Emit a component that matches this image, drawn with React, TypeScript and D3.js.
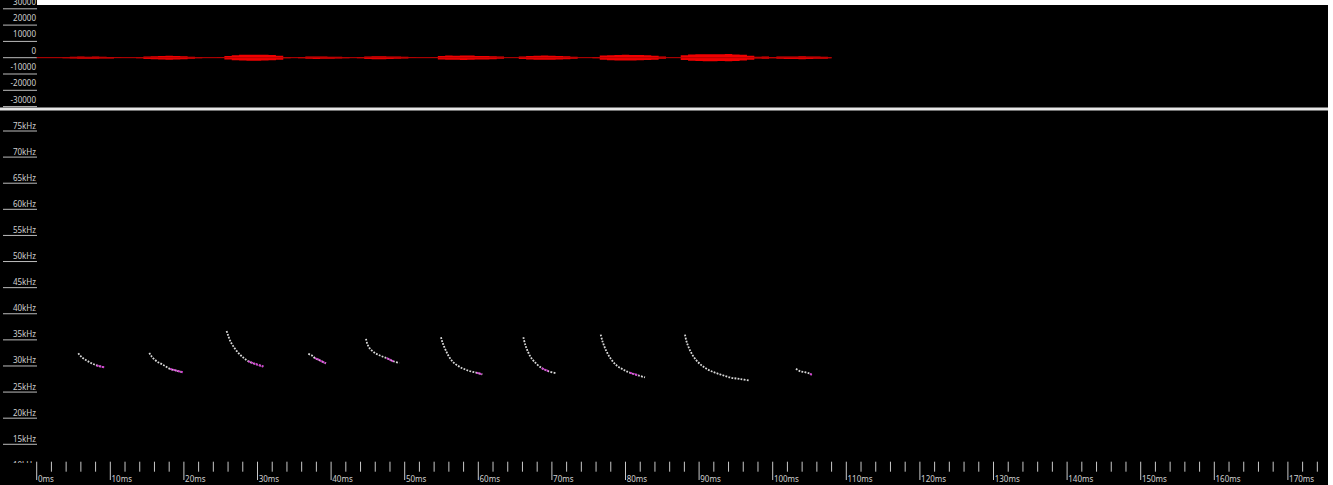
import React from 'react';
import * as d3 from 'd3';

// echolocation sequence: waveform on top, call contours (time ms, freq kHz) below

const W = 1333;
const H = 485;

// waveform envelope, one value per ms (amplitude units)
const waveTimes = d3.range(0, 109);
const waveAmp = [
  120, 120, 120, 120, 300, 550, 700, 650, 700, 550, 500, 250, 120, 120, 300, 800,
  950, 1100, 1200, 1050, 900, 650, 300, 120, 120, 250, 1100, 1500, 1750, 1850, 1850,
  1750, 1600, 1200, 300, 120, 400, 700, 800, 700, 650, 550, 300, 120, 400, 800,
  900, 900, 800, 700, 550, 250, 120, 120, 250, 1050, 1300, 1200, 1350, 1300, 1100,
  1050, 950, 700, 150, 120, 800, 1050, 1200, 1300, 1200, 1050, 900, 650, 150, 120,
  400, 1300, 1500, 1700, 1750, 1700, 1600, 1450, 1200, 700, 150, 120, 1450, 1900, 2100,
  2150, 2150, 2100, 2250, 2000, 1750, 1200, 550, 700, 400, 700, 800, 800, 900, 800,
  700, 650, 300,
];
const ampTicks = [30000, 20000, 10000, 0, -10000, -20000, -30000];

// call contours: [ms, kHz]
const calls: [number, number][][] = [
  [[5.65, 32.45], [6.11, 31.7], [6.79, 31.05], [7.47, 30.5], [8.15, 30.1], [8.83, 29.85], [9.28, 29.7]],
  [[15.3, 32.5], [15.63, 31.8], [16.3, 30.9], [17.2, 30.2], [18.11, 29.45], [19.02, 29.1], [19.84, 28.8]],
  [[25.8, 36.7], [26.0, 35.9], [26.26, 34.9], [26.7, 33.8], [27.39, 32.5], [28.07, 31.6], [28.75, 30.9], [29.66, 30.4], [30.79, 29.9]],
  [[36.9, 32.3], [37.4, 32.0], [37.8, 31.5], [38.3, 31.2], [38.7, 30.9], [39.3, 30.5]],
  [[44.74, 35.2], [44.92, 34.25], [45.28, 33.3], [45.96, 32.5], [46.64, 32.0], [47.55, 31.5], [48.45, 30.9], [49.27, 30.6]],
  [[54.93, 35.5], [55.11, 34.6], [55.48, 33.3], [55.93, 32.0], [56.61, 30.7], [57.51, 29.8], [58.64, 29.1], [59.78, 28.7], [60.54, 28.4]],
  [[66.12, 35.5], [66.35, 34.2], [66.66, 33.0], [67.12, 31.7], [67.7, 30.7], [68.61, 29.6], [69.51, 29.0], [70.55, 28.6]],
  [[76.63, 36.0], [76.9, 34.6], [77.35, 33.0], [77.99, 31.4], [78.8, 30.1], [79.7, 29.3], [80.61, 28.7], [81.74, 28.2], [82.65, 27.8]],
  [[88.08, 36.0], [88.31, 34.6], [88.76, 33.0], [89.44, 31.4], [90.35, 30.1], [91.48, 29.1], [92.84, 28.4], [94.2, 27.8], [95.56, 27.5], [96.92, 27.2]],
  [[103.16, 29.45], [103.7, 29.0], [104.4, 28.8], [105.07, 28.5], [105.3, 28.3]],
];
// part of each call drawn in magenta [from ms, to ms]
const tailRanges: [number, number][] = [
  [8.1, 9.3], [18.0, 19.9], [28.6, 30.8], [37.8, 39.3], [47.5, 48.5],
  [59.7, 60.6], [68.6, 69.6], [80.3, 82.0], [94.9, 96.5], [104.9, 105.3],
];
const freqTicks = [75, 70, 65, 60, 55, 50, 45, 40, 35, 30, 25, 20, 15, 10];

const x = d3.scaleLinear().domain([0, 175]).range([36.7, 36.7 + 175 * 7.36]);
const yWave = d3.scaleLinear().domain([-30000, 30000]).range([106.6, 8.8]);
const yFreq = d3.scaleLinear().domain([10, 75]).range([470.4, 131]);

const font = 'Noto Sans, sans-serif';

export default function App() {
  const area = d3.area<number>()
    .x((_, i) => x(waveTimes[i]))
    .y0(a => yWave(-a))
    .y1(a => yWave(a))
    .curve(d3.curveStep);
  const line = d3.line<[number, number]>()
    .x(d => x(d[0]))
    .y(d => yFreq(d[1]))
    .curve(d3.curveCatmullRom);
  const minor = d3.range(0, 175, 2);

  return (
    <svg width={W} height={H} style={{ display: 'block', position: 'absolute', left: 0, top: 0 }}>
      <defs>
        <clipPath id="specClip">
          <rect x={0} y={111} width={1328} height={352} />
        </clipPath>
      </defs>
      <rect x={0} y={0} width={W} height={H} fill="#fff" />
      <rect x={0} y={0} width={1328} height={H} fill="#000" />
      <rect x={37} y={0} width={W - 37} height={5} fill="#fff" />

      {/* waveform axis */}
      <g fontFamily={font} fontSize={8} fill="#d0d0d0">
        {ampTicks.map(v => (
          <g key={v}>
            <line x1={3} x2={37} y1={yWave(v)} y2={yWave(v)} stroke="#bdbdbd" strokeWidth={1} />
            <text x={36} y={yWave(v) - 4} textAnchor="end">{v}</text>
          </g>
        ))}
      </g>
      <path d={area(waveAmp) ?? ''} fill="#f00000" />
      <line x1={x(0)} x2={x(108)} y1={yWave(0)} y2={yWave(0)} stroke="#b00000" strokeWidth={1} />

      {/* separator */}
      <rect x={0} y={107.5} width={1328} height={3} fill="#e6e6e6" />

      {/* spectrogram */}
      <g clipPath="url(#specClip)">
        <g fontFamily={font} fontSize={8} fill="#d0d0d0">
          {freqTicks.map(f => (
            <g key={f}>
              <line x1={3} x2={37} y1={yFreq(f)} y2={yFreq(f)} stroke="#bdbdbd" strokeWidth={1} />
              <text x={36} y={yFreq(f) - 2.5} textAnchor="end">{`${f}kHz`}</text>
            </g>
          ))}
        </g>
        {calls.map((c, i) => {
          const [a, b] = tailRanges[i];
          const tail = c.filter(d => d[0] >= a - 0.01 && d[0] <= b + 0.01);
          return (
            <g key={i} fill="none">
              <path d={line(c) ?? ''} stroke="#d8d8d8" strokeWidth={1.8} strokeDasharray="1.8 1.3" />
              {tail.length > 1 && (
                <path d={line(tail) ?? ''} stroke="#d23cd2" strokeWidth={1.9} strokeDasharray="2 0.8" />
              )}
            </g>
          );
        })}
      </g>

      {/* time axis */}
      <g fontFamily={font} fontSize={8} fill="#d0d0d0">
        {minor.map(t => (
          <line key={t} x1={x(t)} x2={x(t)} y1={461.7} y2={t % 10 === 0 ? 480 : 471.7}
            stroke="#c8c8c8" strokeWidth={1} />
        ))}
        {d3.range(0, 175, 10).map(t => (
          <text key={t} x={x(t) + 1.2} y={481.5}>{`${t}ms`}</text>
        ))}
      </g>
    </svg>
  );
}
